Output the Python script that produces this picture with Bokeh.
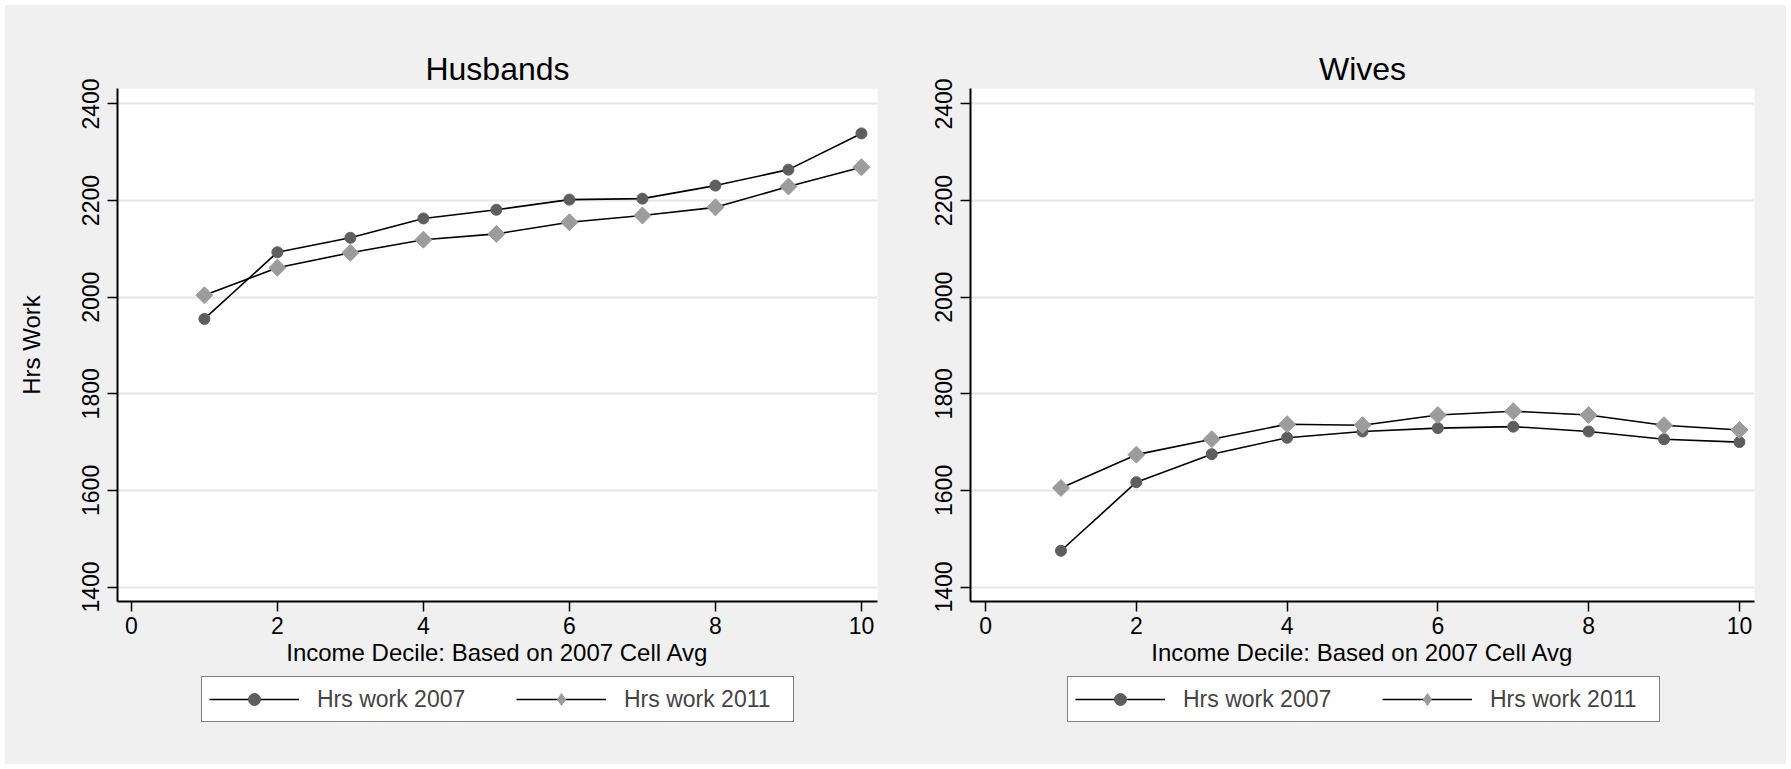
import math
from bokeh.plotting import figure
from bokeh.layouts import row, column
from bokeh.models import Range1d, FixedTicker, Legend, LegendItem
from bokeh.embed import file_html
from bokeh.resources import INLINE

deciles = [1, 2, 3, 4, 5, 6, 7, 8, 9, 10]
husbands_2007 = [1955, 2093, 2123, 2163, 2181, 2202, 2204, 2231, 2264, 2339]
husbands_2011 = [2004, 2061, 2092, 2119, 2131, 2155, 2169, 2186, 2229, 2269]
wives_2007 = [1475, 1617, 1675, 1709, 1722, 1729, 1732, 1722, 1706, 1700]
wives_2011 = [1605, 1674, 1706, 1737, 1735, 1756, 1764, 1756, 1735, 1725]
panel_titles = ["Husbands", "Wives"]
series_labels = ["Hrs work 2007", "Hrs work 2011"]
x_ticks = [0, 2, 4, 6, 8, 10]
y_ticks = [1400, 1600, 1800, 2000, 2200, 2400]
x_title = "Income Decile: Based on 2007 Cell Avg"
y_title = "Hrs Work"

FONT = "Liberation Sans"
BG = "#f0f0f0"
C2007 = "#5e5e5e"
C2011 = "#9c9c9c"
LINE_W = 1.6
NAN = float("nan")


def style_series(p, xs, y07, y11, legend_only=False):
    l07 = p.line(xs, y07, line_color="black", line_width=LINE_W)
    s07 = p.scatter(xs, y07, marker="circle", size=11, fill_color=C2007, line_color=C2007)
    l11 = p.line(xs, y11, line_color="black", line_width=LINE_W)
    if legend_only:
        s11 = p.scatter(xs, y11, marker="diamond", size=12,
                        fill_color=C2011, line_color=C2011)
    else:
        s11 = p.scatter(xs, y11, marker="square", angle=math.pi / 4, size=12,
                        fill_color=C2011, line_color=C2011)
    return l07, s07, l11, s11


def make_panel(title, y07, y11, width, mb_left, mb_right, x_range, show_ylabel):
    p = figure(width=width, height=665, output_backend="svg", toolbar_location=None,
               x_range=Range1d(*x_range), y_range=Range1d(1370, 2432),
               min_border_left=mb_left, min_border_right=mb_right,
               min_border_top=83, min_border_bottom=69,
               background_fill_color="white", border_fill_color=BG,
               outline_line_color=None)
    p.title.text = title
    p.title.align = "center"
    p.title.text_font = FONT
    p.title.text_font_size = "32px"
    p.title.text_font_style = "normal"
    p.title.text_color = "black"
    p.title.standoff = 4

    style_series(p, deciles, y07, y11)

    p.xgrid.visible = False
    p.ygrid.grid_line_color = "#e6e6e6"
    p.ygrid.grid_line_width = 2
    p.ygrid.ticker = FixedTicker(ticks=y_ticks)

    for ax in (p.xaxis[0], p.yaxis[0]):
        ax.axis_line_color = "black"
        ax.axis_line_width = 2
        ax.major_tick_line_color = "black"
        ax.major_tick_line_width = 1.5
        ax.major_tick_out = 10
        ax.major_tick_in = 0
        ax.minor_tick_line_color = None
        ax.major_label_text_font = FONT
        ax.major_label_text_font_size = "23px"
        ax.major_label_text_color = "black"
        ax.axis_label_text_font = FONT
        ax.axis_label_text_font_size = "24px"
        ax.axis_label_text_font_style = "normal"
        ax.axis_label_text_color = "black"

    p.xaxis.ticker = FixedTicker(ticks=x_ticks)
    p.yaxis.ticker = FixedTicker(ticks=y_ticks)
    p.xaxis.major_label_standoff = 5
    p.xaxis.axis_label = x_title
    p.xaxis.axis_label_standoff = 2
    p.yaxis.major_label_orientation = "vertical"
    p.yaxis.major_label_standoff = 8
    if show_ylabel:
        p.yaxis.axis_label = y_title
        p.yaxis.axis_label_standoff = 35
    return p


def make_legend_panel(width, legend_x):
    q = figure(width=width, height=94, output_backend="svg", toolbar_location=None,
               x_range=Range1d(0, 1), y_range=Range1d(0, 1),
               x_axis_type=None, y_axis_type=None,
               min_border=0, background_fill_color=BG, border_fill_color=BG,
               outline_line_color=None)
    q.xgrid.visible = False
    q.ygrid.visible = False
    # legend-only renderers: one undefined point each, so nothing is drawn in the panel
    l07, s07, l11, s11 = style_series(q, [NAN], [NAN], [NAN], legend_only=True)
    legend = Legend(items=[LegendItem(label=series_labels[0], renderers=[l07, s07]),
                           LegendItem(label=series_labels[1], renderers=[l11, s11])],
                    orientation="horizontal", location=(legend_x, 42),
                    glyph_width=90, glyph_height=30, label_standoff=18,
                    label_width=162, spacing=37, padding=7, margin=0,
                    label_text_font=FONT, label_text_font_size="23px",
                    border_line_color="black", border_line_width=1.5,
                    background_fill_color="white", background_fill_alpha=1.0)
    q.add_layout(legend)
    return q


p1 = make_panel(panel_titles[0], husbands_2007, husbands_2011, 895, 112, 23, (-0.19, 10.22), True)
p2 = make_panel(panel_titles[1], wives_2007, wives_2011, 886, 70, 32, (-0.2, 10.2), False)
q1 = make_legend_panel(895, 196)
q2 = make_legend_panel(886, 167)
layout = column(row(p1, p2, spacing=0), row(q1, q2, spacing=0), spacing=0,
                margin=(5, 5, 5, 5), styles={"background-color": BG})

open("out.html", "w").write(file_html(layout, INLINE))
